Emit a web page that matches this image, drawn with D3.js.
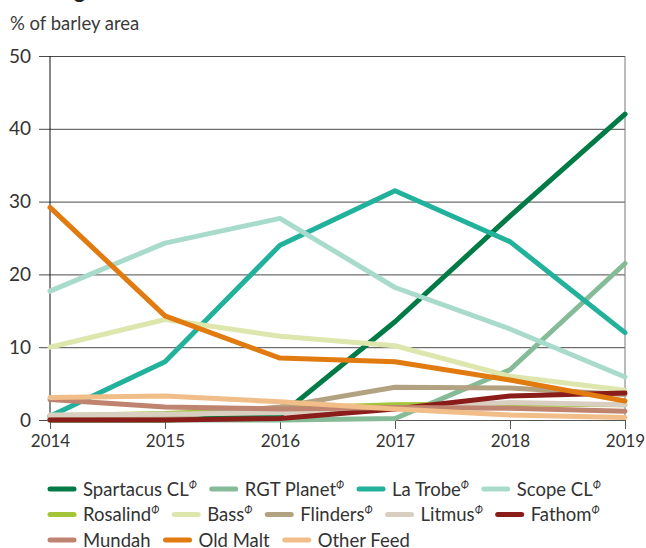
<!DOCTYPE html>
<html>
<head>
<meta charset="utf-8">
<script src="https://cdn.jsdelivr.net/npm/d3@7"></script>
<style>
  body { margin: 0; background: #fff; }
  svg { display: block; font-family: Lato, Roboto, sans-serif; }
</style>
</head>
<body>
<div id="wrapper"></div>
<script>
const years = [2014, 2015, 2016, 2017, 2018, 2019]
const yTicks = [0, 10, 20, 30, 40, 50]

const varieties = ["Spartacus CL", "RGT Planet", "La Trobe", "Scope CL",
    "Rosalind", "Bass", "Flinders", "Litmus", "Fathom",
    "Mundah", "Old Malt", "Other Feed"]
const pbr = [true, true, true, true, true, true, true, true, true, false, false, false]
const colours = ["#007b46", "#85bb97", "#22b19b", "#a9dbcc",
    "#a4c43a", "#dde6ac", "#b3a282", "#d9cfc1", "#8a1d1a",
    "#bf8470", "#e17a0f", "#f1bd88"]

const spartacus = [0, 0, 0.6, 13.5, 28, 42]
const rgtPlanet = [0, 0, 0, 0.2, 6.9, 21.5]
const laTrobe = [0.5, 8, 24, 31.5, 24.5, 12]
const scope = [17.7, 24.3, 27.7, 18.2, 12.5, 5.9]
const rosalind = [0.6, 0.9, 1.6, 2.1, 2.2, 2.1]
const bass = [10, 13.8, 11.5, 10.2, 6, 4.1]
const flinders = [0.2, 0.4, 1.8, 4.5, 4.4, 3.5]
const litmus = [0.7, 0.8, 1.0, 1.6, 2.4, 2.1]
const fathom = [0, 0, 0.2, 1.5, 3.3, 3.7]
const mundah = [2.8, 1.8, 1.5, 1.7, 1.6, 1.2]
const oldMalt = [29.2, 14.3, 8.5, 8, 5.5, 2.6]
const otherFeed = [3.1, 3.3, 2.5, 1.5, 0.7, 0.35]

const seriesValues = [spartacus, rgtPlanet, laTrobe, scope, rosalind, bass,
    flinders, litmus, fathom, mundah, oldMalt, otherFeed]

// legend rows (indexes into varieties)
const legendRows = [[0, 1, 2, 3], [4, 5, 6, 7, 8], [9, 10, 11]]

const dimensions = {
    width: 646,
    height: 548,
    margin: { top: 56, right: 21, bottom: 128, left: 50 },
}
dimensions.boundedWidth = dimensions.width - dimensions.margin.left - dimensions.margin.right
dimensions.boundedHeight = dimensions.height - dimensions.margin.top - dimensions.margin.bottom

const svg = d3.select("#wrapper")
    .append("svg")
    .attr("width", dimensions.width)
    .attr("height", dimensions.height)

// cut-off chart title above the frame
svg.append("text")
    .attr("x", 10)
    .attr("y", -2)
    .attr("font-size", "22px")
    .attr("font-weight", "bold")
    .attr("fill", "#222")
    .text("Malting")

svg.append("text")
    .attr("x", 10)
    .attr("y", 30)
    .attr("font-size", "18.5px")
    .attr("fill", "#3a3a3a")
    .text("% of barley area")

const bounds = svg.append("g")
    .attr("transform", `translate(${dimensions.margin.left},${dimensions.margin.top})`)

const xScale = d3.scaleLinear()
    .domain(d3.extent(years))
    .range([0, dimensions.boundedWidth])

const yScale = d3.scaleLinear()
    .domain([0, 50])
    .range([dimensions.boundedHeight, 0])

// y axis with gridlines
const yAxis = bounds.append("g")
    .call(d3.axisLeft(yScale)
        .tickValues(yTicks)
        .tickSize(-dimensions.boundedWidth)
        .tickPadding(10))
yAxis.select(".domain").remove()
yAxis.selectAll(".tick line")
    .attr("x1", -11)
    .attr("stroke", "#4a4a4a")
yAxis.selectAll(".tick text")
    .attr("font-size", "19px")
    .attr("fill", "#333")
    .attr("font-family", "Lato, sans-serif")
    .attr("x", -19)

// x axis
const xAxis = bounds.append("g")
    .attr("transform", `translate(0,${dimensions.boundedHeight})`)
    .call(d3.axisBottom(xScale)
        .tickValues(years)
        .tickFormat(d3.format("d"))
        .tickSize(9)
        .tickPadding(6))
xAxis.select(".domain").attr("stroke", "#555")
xAxis.selectAll(".tick line").attr("stroke", "#555")
xAxis.selectAll(".tick text")
    .attr("font-size", "17px")
    .attr("fill", "#333")
    .attr("font-family", "Lato, sans-serif")

// left and right frame lines
bounds.append("line")
    .attr("x1", 0).attr("x2", 0)
    .attr("y1", 0).attr("y2", dimensions.boundedHeight)
    .attr("stroke", "#111")
bounds.append("line")
    .attr("x1", dimensions.boundedWidth).attr("x2", dimensions.boundedWidth)
    .attr("y1", 0).attr("y2", dimensions.boundedHeight)
    .attr("stroke", "#777")

const lineGen = d3.line()
    .x((d, i) => xScale(years[i]))
    .y(d => yScale(d))

bounds.append("g")
    .selectAll("path")
    .data(seriesValues)
    .enter()
    .append("path")
    .attr("d", lineGen)
    .attr("fill", "none")
    .attr("stroke", (d, i) => colours[i])
    .attr("stroke-width", 5)
    .attr("stroke-linejoin", "round")
    .attr("stroke-linecap", "round")

// legend
const legend = svg.append("g")
legendRows.forEach((row, r) => {
    let x = 50
    const y = 489 + r * 25.5
    row.forEach(i => {
        legend.append("line")
            .attr("x1", x).attr("x2", x + 24)
            .attr("y1", y).attr("y2", y)
            .attr("stroke", colours[i])
            .attr("stroke-width", 5)
            .attr("stroke-linecap", "round")
        const label = legend.append("text")
            .attr("x", x + 33)
            .attr("y", y + 6.5)
            .attr("font-size", "18.5px")
            .attr("fill", "#333")
        label.append("tspan").text(varieties[i])
        if (pbr[i]) {
            label.append("tspan")
                .attr("font-size", "11px")
                .attr("font-style", "italic")
                .attr("dy", -7)
                .text("Ф")
        }
        x += 33 + label.node().getComputedTextLength() + 15
    })
})
</script>
</body>
</html>
